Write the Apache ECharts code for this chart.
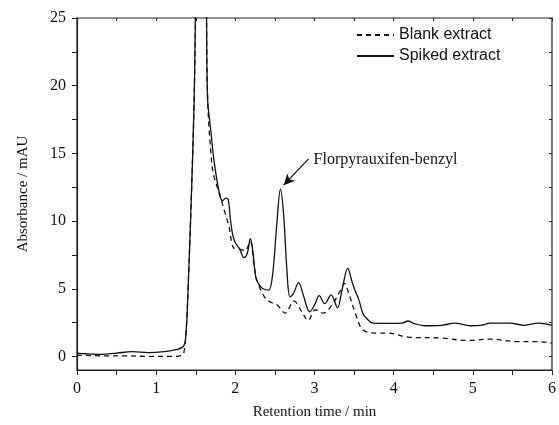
<!DOCTYPE html>
<html>
<head>
<meta charset="utf-8">
<script src="https://cdn.jsdelivr.net/npm/echarts@6/dist/echarts.min.js"></script>
<style>html,body{margin:0;padding:0;background:#fff;}#c{width:559px;height:425px;}</style>
</head>
<body>
<div id="c"></div>
<script>
const seriesNames = ['Blank extract', 'Spiked extract'];
const blankT = [0, 0.3, 0.6, 0.9, 1.2, 1.33, 1.36, 1.38, 1.40, 1.44, 1.48, 1.50, 1.53, 1.57, 1.61, 1.635, 1.65, 1.70, 1.73, 1.80, 1.86, 1.92, 1.98, 2.07, 2.12, 2.19, 2.23, 2.26, 2.30, 2.38, 2.45, 2.53, 2.63, 2.74, 2.84, 2.92, 3.01, 3.11, 3.22, 3.32, 3.38, 3.43, 3.53, 3.61, 3.76, 3.93, 4.18, 4.60, 4.93, 5.22, 5.56, 5.81, 6.0];
const blankV = [0.1, 0.05, 0.05, 0.0, 0.0, 0.1, 0.7, 2, 4.5, 11, 19, 27, 40, 50, 38, 26, 19, 14.4, 13.3, 12.0, 10.8, 9.6, 8.0, 7.9, 7.8, 8.5, 7.0, 5.9, 5.2, 4.3, 4.0, 3.8, 3.2, 4.1, 3.3, 2.66, 3.45, 3.2, 3.8, 4.8, 5.4, 4.7, 2.95, 1.97, 1.73, 1.73, 1.43, 1.36, 1.18, 1.28, 1.1, 1.1, 0.99];
const spikedT = [0, 0.1, 0.3, 0.5, 0.7, 0.9, 1.1, 1.25, 1.35, 1.38, 1.40, 1.44, 1.48, 1.50, 1.53, 1.57, 1.61, 1.635, 1.65, 1.69, 1.73, 1.80, 1.84, 1.88, 1.91, 1.94, 1.97, 2.00, 2.05, 2.11, 2.15, 2.19, 2.22, 2.26, 2.30, 2.35, 2.42, 2.47, 2.52, 2.57, 2.61, 2.65, 2.69, 2.73, 2.80, 2.86, 2.94, 3.00, 3.06, 3.13, 3.21, 3.29, 3.35, 3.42, 3.47, 3.51, 3.56, 3.61, 3.66, 3.74, 3.90, 4.05, 4.12, 4.18, 4.25, 4.39, 4.60, 4.77, 4.97, 5.10, 5.22, 5.47, 5.65, 5.83, 6.0];
const spikedV = [0.25, 0.2, 0.15, 0.25, 0.35, 0.28, 0.35, 0.5, 0.8, 2, 4.5, 11, 19, 27, 40, 52, 40, 26, 19, 16.7, 14.5, 12.0, 11.5, 11.7, 11.6, 10.0, 8.9, 8.4, 8.0, 7.3, 7.6, 8.7, 7.8, 5.8, 5.3, 5.0, 4.9, 6.0, 9.5, 12.35, 10.5, 6.5, 4.4, 4.6, 5.45, 4.5, 3.3, 3.8, 4.5, 3.9, 4.55, 3.6, 5.0, 6.5, 5.6, 4.9, 4.2, 3.2, 2.8, 2.46, 2.45, 2.45, 2.48, 2.62, 2.45, 2.27, 2.3, 2.46, 2.27, 2.3, 2.46, 2.46, 2.3, 2.46, 2.3];
const xTicks = [0, 1, 2, 3, 4, 5, 6];
const xMinorTicks = [0.5, 1.5, 2.5, 3.5, 4.5, 5.5];
const yTicks = [0, 5, 10, 15, 20, 25];
const yMinorTicks = [2.5, 7.5, 12.5, 17.5, 22.5];
const annotationText = 'Florpyrauxifen-benzyl';
const arrowFrom = [2.925, 14.6];
const arrowTo = [2.61, 12.65];

const pairs = (t, v) => t.map((x, i) => [x, v[i]]);
const serif = 'Liberation Serif';
const axisCol = '#222';

const chart = echarts.init(document.getElementById('c'), null, {renderer: 'canvas'});
const baseX = {type: 'value', min: 0, max: 6, splitLine: {show: false}};
const baseY = {type: 'value', min: -1, max: 25, splitLine: {show: false}};
chart.setOption({
  animation: false,
  backgroundColor: '#fff',
  grid: {left: 77, right: 4, top: 18, bottom: 55, containLabel: false,
         show: true, borderColor: axisCol, borderWidth: 1.2, backgroundColor: 'transparent'},
  legend: {
    orient: 'vertical', left: 351, top: 22, itemWidth: 37, itemHeight: 12, itemGap: 5,
    itemStyle: {opacity: 0},
    textStyle: {fontFamily: 'Liberation Sans', fontSize: 16, color: '#111'},
    data: seriesNames
  },
  xAxis: [
    Object.assign({}, baseX, {
      position: 'bottom',
      name: 'Retention time / min', nameLocation: 'middle', nameGap: 35,
      nameTextStyle: {fontFamily: serif, fontSize: 15, color: '#111'},
      axisLine: {onZero: false, lineStyle: {color: axisCol, width: 1.2}},
      axisTick: {customValues: xTicks.concat(xMinorTicks), length: 5, lineStyle: {color: axisCol}},
      axisLabel: {customValues: xTicks, margin: 11, fontFamily: serif, fontSize: 16, color: '#111'}
    }),
    Object.assign({}, baseX, {
      position: 'top',
      axisLine: {onZero: false, show: false},
      axisTick: {customValues: xTicks.concat(xMinorTicks), inside: true, length: 3, lineStyle: {color: axisCol}},
      axisLabel: {show: false}
    })
  ],
  yAxis: [
    Object.assign({}, baseY, {
      position: 'left',
      name: 'Absorbance / mAU', nameLocation: 'middle', nameGap: 46,
      nameTextStyle: {fontFamily: serif, fontSize: 15, color: '#111'},
      axisLine: {onZero: false, lineStyle: {color: axisCol, width: 1.2}},
      axisTick: {customValues: yTicks.concat(yMinorTicks), length: 5, lineStyle: {color: axisCol}},
      axisLabel: {customValues: yTicks, margin: 11, fontFamily: serif, fontSize: 16, color: '#111'}
    }),
    Object.assign({}, baseY, {
      position: 'right',
      axisLine: {onZero: false, show: false},
      axisTick: {customValues: yTicks.concat(yMinorTicks), inside: true, length: 3, lineStyle: {color: axisCol}},
      axisLabel: {show: false}
    })
  ],
  series: [
    {
      name: seriesNames[0], type: 'line', xAxisIndex: 0, yAxisIndex: 0,
      data: pairs(blankT, blankV), smooth: 0.35, symbol: 'none', clip: true,
      lineStyle: {color: '#111', width: 1.3, type: [5, 4]},
      itemStyle: {color: '#111'}
    },
    {
      name: seriesNames[1], type: 'line', xAxisIndex: 0, yAxisIndex: 0,
      data: pairs(spikedT, spikedV), smooth: 0.35, symbol: 'none', clip: true,
      lineStyle: {color: '#111', width: 1.3, type: 'solid'},
      itemStyle: {color: '#111'},
      markLine: {
        silent: true, symbol: ['none', 'arrow'], symbolSize: [8, 11],
        lineStyle: {color: '#111', width: 1.2, type: 'solid'},
        label: {show: false},
        data: [[{coord: arrowFrom}, {coord: arrowTo}]]
      }
    }
  ]
});
const p = chart.convertToPixel({xAxisIndex: 0, yAxisIndex: 0}, arrowFrom);
chart.setOption({
  graphic: [{
    type: 'text', left: p[0] + 5, top: p[1] - 7,
    style: {text: annotationText, font: '16px "Liberation Serif"', fill: '#111'}
  }]
});
</script>
</body>
</html>
